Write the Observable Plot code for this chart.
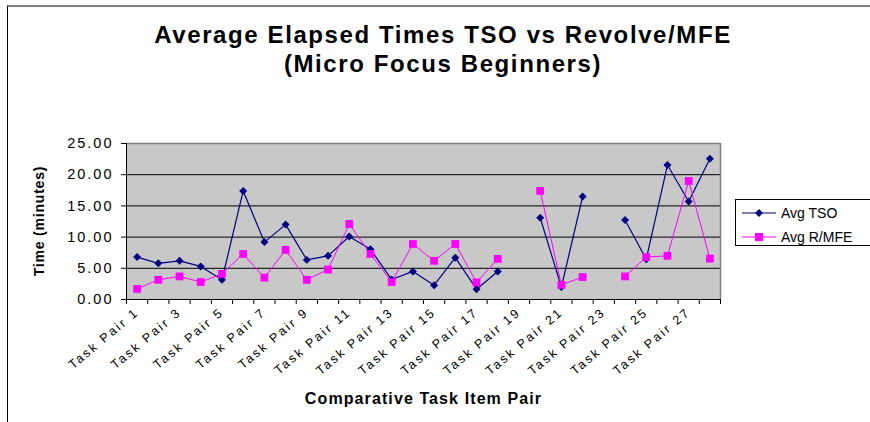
<!DOCTYPE html>
<html><head><meta charset="utf-8">
<script src="https://cdn.jsdelivr.net/npm/d3@7"></script>
<script src="https://cdn.jsdelivr.net/npm/@observablehq/plot@0.6"></script>
<style>
body{margin:0;background:#fff;font-family:"Liberation Sans",Arial,sans-serif;}
#wrap{position:relative;width:870px;height:422px;overflow:hidden;background:#fff;}
#frame{position:absolute;left:7px;top:5px;width:900px;height:430px;border-left:1px solid #000;border-top:2px solid #808080;box-sizing:border-box;}
#title{position:absolute;left:0;top:20px;width:886px;text-align:center;font-weight:bold;font-size:24px;letter-spacing:1.6px;line-height:29px;color:#000;}
#ylabel{position:absolute;left:39px;top:221px;transform:translate(-50%,-50%) rotate(-90deg);white-space:nowrap;font-weight:bold;font-size:14px;letter-spacing:0.8px;color:#000;}
#chart{position:absolute;left:0;top:0;}
#legend{position:absolute;left:735px;top:199px;width:150px;height:47px;border:1px solid #000;background:#fff;box-sizing:border-box;}
#legend svg{position:absolute;left:0;top:0;}
#chart svg .ytick text{letter-spacing:2px;}
#chart svg .xlab text{letter-spacing:2.3px;}
</style></head><body>
<div id="wrap">
  <div id="frame"></div>
  <div id="title">Average Elapsed Times TSO vs Revolve/MFE<br>(Micro Focus Beginners)</div>
  <div id="chart"></div>
  <div id="ylabel">Time (minutes)</div>
  <div id="legend"></div>
</div>
<script>
const categories = ["Task Pair 1","Task Pair 2","Task Pair 3","Task Pair 4","Task Pair 5","Task Pair 6","Task Pair 7","Task Pair 8","Task Pair 9","Task Pair 10","Task Pair 11","Task Pair 12","Task Pair 13","Task Pair 14","Task Pair 15","Task Pair 16","Task Pair 17","Task Pair 18","Task Pair 19","Task Pair 20","Task Pair 21","Task Pair 22","Task Pair 23","Task Pair 24","Task Pair 25","Task Pair 26","Task Pair 27","Task Pair 28"];
const avgTSO  = [6.8,5.8,6.2,5.3,3.15,17.4,9.2,12.0,6.35,7.0,10.1,8.05,3.2,4.5,2.3,6.7,1.65,4.5,null,13.1,2.0,16.5,null,12.75,6.45,21.55,15.7,22.55];
const avgRMFE = [1.7,3.15,3.7,2.8,4.1,7.3,3.5,7.95,3.15,4.8,12.1,7.3,2.8,8.9,6.2,8.9,2.75,6.5,null,17.4,2.35,3.6,null,3.7,6.8,7.0,19.0,6.55];
const tickLabels = ["Task Pair 1","Task Pair 3","Task Pair 5","Task Pair 7","Task Pair 9","Task Pair 11","Task Pair 13","Task Pair 15","Task Pair 17","Task Pair 19","Task Pair 21","Task Pair 23","Task Pair 25","Task Pair 27"];
const yTicks = [0,5,10,15,20,25];
const seriesNames = ["Avg TSO","Avg R/MFE"];
const seriesColors = ["#000080","#FF00FF"];

const rows = categories.map((c,i)=>({i, cat:c, pos:i+0.5,
  tso: avgTSO[i]==null?NaN:avgTSO[i], rmfe: avgRMFE[i]==null?NaN:avgRMFE[i]}));
const labelPos = tickLabels.map(l => categories.indexOf(l) + 0.5);
const boundaries = categories.map((_,i)=>i).concat([categories.length]);

const chart = Plot.plot({
  width: 870, height: 422,
  marginLeft: 126, marginRight: 150, marginTop: 143, marginBottom: 123,
  style: {fontFamily: '"Liberation Sans", Arial, sans-serif', background: "transparent", color: "#000"},
  x: {type: "linear", domain: [0, categories.length]},
  y: {domain: [0, 25]},
  marks: [
    Plot.frame({fill: "#c8c8c8", stroke: null}),
    Plot.ruleY(yTicks.filter(d => d > 0 && d < 25), {stroke: "#000", strokeWidth: 1}),
    Plot.ruleY([25], {stroke: "#808080", strokeWidth: 1.5}),
    Plot.ruleX([categories.length], {stroke: "#808080", strokeWidth: 1.5}),
    Plot.axisY({ticks: yTicks, tickFormat: d => d.toFixed(2), tickSize: 5, tickPadding: 8, fontSize: 14.5, label: null, className: "ytick"}),
    Plot.axisX({ticks: boundaries, tickFormat: () => "", tickSize: 5, label: null}),
    Plot.axisX({ticks: labelPos, tickFormat: d => categories[d - 0.5], tickRotate: -40, tickSize: 0, tickPadding: 11, fontSize: 12.5, label: null, className: "xlab"}),
    Plot.ruleX([0], {stroke: "#000"}),
    Plot.ruleY([0], {stroke: "#000"}),
    Plot.line(rows, {x: "pos", y: "tso", stroke: seriesColors[0], strokeWidth: 1.2}),
    Plot.line(rows, {x: "pos", y: "rmfe", stroke: seriesColors[1], strokeWidth: 1}),
    Plot.dot(rows, {x: "pos", y: "tso", symbol: d3.symbolDiamond2, r: 3.6, fill: seriesColors[0], stroke: null}),
    Plot.dot(rows, {x: "pos", y: "rmfe", symbol: "square", r: 4.4, fill: seriesColors[1], stroke: null}),
    Plot.text(["Comparative Task Item Pair"], {frameAnchor: "bottom", dy: 104, fontSize: 16, fontWeight: "bold", className: "xtitle"})
  ]
});
document.getElementById("chart").appendChild(chart);
d3.select(chart).selectAll(".xtitle text").style("letter-spacing", "1.1px");

// legend
const lg = d3.select("#legend").append("svg").attr("width", 150).attr("height", 47);
const sym = [d3.symbol(d3.symbolDiamond2, 40), d3.symbol(d3.symbolSquare, 64)];
seriesNames.forEach((name, k) => {
  const y = 13 + k * 24;
  lg.append("line").attr("x1", 6).attr("x2", 40).attr("y1", y).attr("y2", y).attr("stroke", seriesColors[k]).attr("stroke-width", 1.2);
  lg.append("path").attr("d", sym[k]()).attr("transform", `translate(23,${y})`).attr("fill", seriesColors[k]);
  lg.append("text").attr("x", 45).attr("y", y + 5).attr("font-size", 14).attr("font-family", '"Liberation Sans", Arial, sans-serif').text(name);
});
</script>
</body></html>
